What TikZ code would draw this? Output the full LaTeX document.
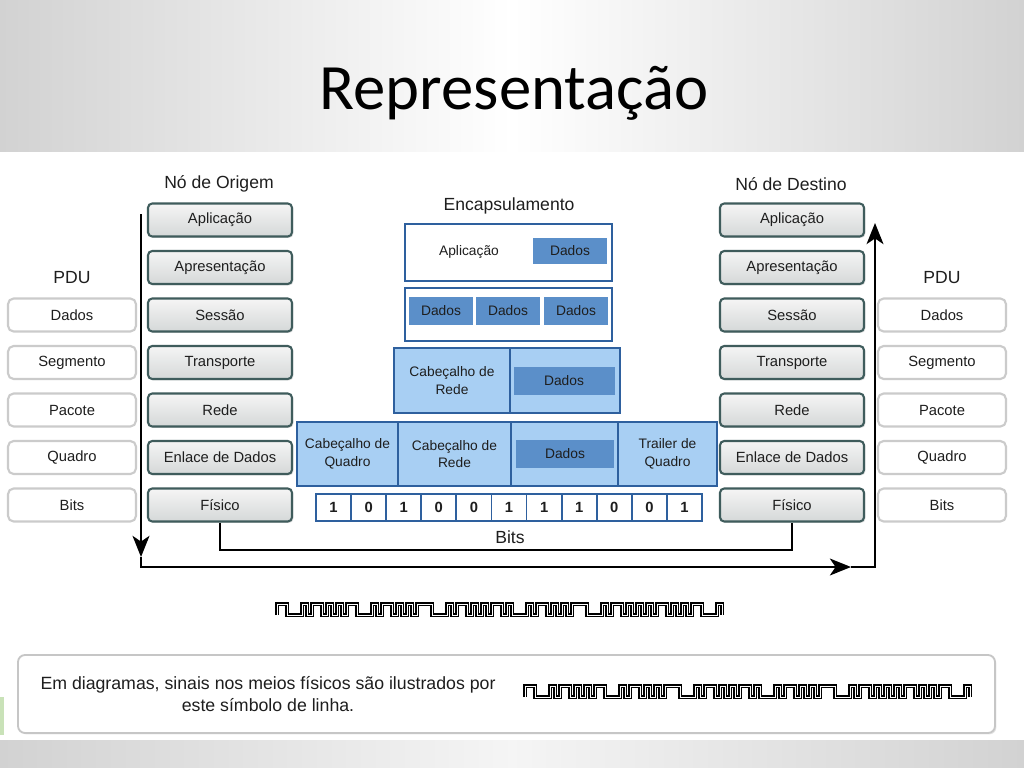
\documentclass[tikz,border=0pt]{standalone}
\usepackage{fontspec}
\setmainfont{Liberation Sans}
\newfontfamily\titlefont{Carlito}
\usepackage{tikz}
\usetikzlibrary{arrows.meta,shadows}
\definecolor{laybd}{HTML}{3F5C5C}
\definecolor{laytop}{HTML}{F5F5F5}
\definecolor{laybot}{HTML}{D5D8D8}
\definecolor{pdubd}{HTML}{CBCBCB}
\definecolor{encbd}{HTML}{2E609E}
\definecolor{enclt}{HTML}{A8CFF3}
\definecolor{encdk}{HTML}{5B8FC9}
\definecolor{ink}{HTML}{1E1E1E}
\definecolor{bandgr}{HTML}{D2D2D2}
\definecolor{leaf}{HTML}{C9E2B8}
\newcommand{\pxu}{0.025cm}
\newcommand{\boxfont}{\fontsize{10.5}{12}\selectfont}
\newcommand{\encfont}{\fontsize{9.8}{12.5}\selectfont}
\newcommand{\lblfont}{\fontsize{12.5}{14}\selectfont}
\newcommand{\notefont}{\fontsize{12.6}{15.6}\selectfont}
\newcommand{\bitpattern}{2/3,1/1,2/1,1/1,1/1,2/3,1/1,2/1,1/1,1/1,3/3,1/1,2/1,1/1,1/1,2/1,1/3,1/1,2/1,1/1,1/1,3/3,1/1,2/1,1/1,1/1,1/1,2/1,1/1,1/1,2/3,1/0}

\begin{document}
\begin{tikzpicture}[
  x=\pxu, y=-\pxu,
  layer/.style={draw=laybd,line width=1.5pt,top color=laytop,bottom color=laybot,rounded corners=3pt,inner sep=0pt,minimum width=144*\pxu,minimum height=33*\pxu,font=\boxfont,text=ink,drop shadow={opacity=0.25,shadow xshift=1pt,shadow yshift=-1pt}},
  pdu/.style={draw=pdubd,line width=1.5pt,fill=white,rounded corners=4pt,inner sep=0pt,minimum width=128*\pxu,minimum height=33*\pxu,font=\boxfont,text=ink},
  lbl/.style={font=\lblfont,text=ink,inner sep=0pt},
  enc/.style={draw=encbd,line width=1.3pt,inner sep=0pt,align=center,font=\encfont,text=ink},
  dados/.style={fill=encdk,inner sep=0pt,font=\encfont,text=ink},
  bitcell/.style={draw=encbd,line width=1.3pt,fill=white,inner sep=0pt,minimum width=35.1*\pxu,minimum height=27*\pxu,font=\boxfont\bfseries,text=ink},
  note/.style={draw=gray!45,line width=1.3pt,fill=white,rounded corners=5pt,minimum width=977*\pxu,minimum height=78*\pxu,drop shadow={opacity=0.2,shadow xshift=1pt,shadow yshift=-1pt}},
  fl/.style={-{Stealth[length=15pt,width=12pt,inset=4pt]},line width=1.5pt,draw=black},
  bus/.style={line width=1.5pt,draw=black},
  wave/.style={draw=black,line width=1.2pt,double=white,double distance=0.7pt},
]
\useasboundingbox (0,0) rectangle (1024,768);
% fundo do slide
\shade[left color=bandgr,right color=bandgr,middle color=white] (0,0) rectangle (1024,152);
\fill[white] (0,152) rectangle (1024,740);
\shade[left color=bandgr,right color=bandgr,middle color=gray!8] (0,740) rectangle (1024,768);
\fill[leaf] (0,697) rectangle (4,735);
\node[font=\titlefont\fontsize{46}{50}\selectfont,inner sep=0pt] (title) at (514,93) {Representação};

% colunas de camadas
\node[lbl] (orig) at (219,184) {Nó de Origem};
\node[lbl] (dest) at (791,184) {Nó de Destino};
\node[lbl] (pduL) at (72,278) {PDU};
\node[lbl] (pduR) at (942,278) {PDU};
\node[layer] (oapl) at (220,220) {Aplicação};
\node[layer] (oapr) at (220,267.5) {Apresentação};
\node[layer] (oses) at (220,315) {Sessão};
\node[layer] (otra) at (220,362.5) {Transporte};
\node[layer] (ored) at (220,410) {Rede};
\node[layer] (oenl) at (220,457.5) {Enlace de Dados};
\node[layer] (ofis) at (220,505) {Físico};
\node[layer] (dapl) at (792,220) {Aplicação};
\node[layer] (dapr) at (792,267.5) {Apresentação};
\node[layer] (dses) at (792,315) {Sessão};
\node[layer] (dtra) at (792,362.5) {Transporte};
\node[layer] (dred) at (792,410) {Rede};
\node[layer] (denl) at (792,457.5) {Enlace de Dados};
\node[layer] (dfis) at (792,505) {Físico};
\node[pdu] (lda) at (72,315) {Dados};
\node[pdu] (lseg) at (72,362.5) {Segmento};
\node[pdu] (lpac) at (72,410) {Pacote};
\node[pdu] (lqua) at (72,457.5) {Quadro};
\node[pdu] (lbit) at (72,505) {Bits};
\node[pdu] (rda) at (942,315) {Dados};
\node[pdu] (rseg) at (942,362.5) {Segmento};
\node[pdu] (rpac) at (942,410) {Pacote};
\node[pdu] (rqua) at (942,457.5) {Quadro};
\node[pdu] (rbit) at (942,505) {Bits};

% encapsulamento
\node[lbl] (encap) at (509,206) {Encapsulamento};
\node[enc,fill=white,minimum width=207*\pxu,minimum height=57*\pxu] (aplbox) at (508.5,252.5) {};
\node[font=\encfont,text=ink] (apltxt) at (469,252) {Aplicação};
\node[dados,minimum width=74*\pxu,minimum height=26*\pxu] (d1) at (570,251) {Dados};
\node[enc,fill=white,minimum width=207*\pxu,minimum height=53*\pxu] (segbox) at (508.5,314.5) {};
\node[dados,minimum width=64*\pxu,minimum height=28*\pxu] (d2a) at (441,311) {Dados};
\node[dados,minimum width=64*\pxu,minimum height=28*\pxu] (d2b) at (508,311) {Dados};
\node[dados,minimum width=64*\pxu,minimum height=28*\pxu] (d2c) at (576,311) {Dados};
\node[enc,fill=enclt,minimum width=116*\pxu,minimum height=65*\pxu] (pkth) at (452,380.5) {Cabeçalho de\\Rede};
\node[enc,fill=enclt,minimum width=110*\pxu,minimum height=65*\pxu] (pktd) at (565,380.5) {};
\node[dados,minimum width=101*\pxu,minimum height=28*\pxu] (d3) at (564,381) {Dados};
\node[enc,fill=enclt,minimum width=101*\pxu,minimum height=64*\pxu] (frh) at (347.5,454) {Cabeçalho de\\Quadro};
\node[enc,fill=enclt,minimum width=113*\pxu,minimum height=64*\pxu] (frn) at (454.5,454) {Cabeçalho de\\Rede};
\node[enc,fill=enclt,minimum width=107*\pxu,minimum height=64*\pxu] (frd) at (564.5,454) {};
\node[dados,minimum width=98*\pxu,minimum height=28*\pxu] (d4) at (565,454) {Dados};
\node[enc,fill=enclt,minimum width=99*\pxu,minimum height=64*\pxu] (frt) at (667.5,454) {Trailer de\\Quadro};
\node[bitcell] (b1) at (333.5,507.5) {1};
\node[bitcell] (b2) at (368.6,507.5) {0};
\node[bitcell] (b3) at (403.7,507.5) {1};
\node[bitcell] (b4) at (438.8,507.5) {0};
\node[bitcell] (b5) at (473.9,507.5) {0};
\node[bitcell] (b6) at (509,507.5) {1};
\node[bitcell] (b7) at (544.1,507.5) {1};
\node[bitcell] (b8) at (579.2,507.5) {1};
\node[bitcell] (b9) at (614.3,507.5) {0};
\node[bitcell] (b10) at (649.4,507.5) {0};
\node[bitcell] (b11) at (684.5,507.5) {1};
\node[lbl] (bits) at (510,537) {Bits};

% fluxo entre os nós
\coordinate (oT) at (141,214);
\coordinate (oA) at (141,557);
\coordinate (oB) at (141,567);
\coordinate (dA) at (851,567);
\coordinate (dB) at (875,567);
\coordinate (dT) at (875,223);
\coordinate (busmid) at (510,550);
\draw[fl] (oT) -- (oA);
\draw[fl] (oA) -- (oB) -- (dA);
\draw[fl] (dA) -- (dB) -- (dT);
\draw[bus] (ofis.south) |- (busmid) -| (dfis.south);

% sinal no meio físico
\coordinate (sigA) at (277,615);
\draw[wave] (sigA) \foreach \h/\l in \bitpattern { -- ++(0,-11) -- ++(5*\h,0) -- ++(0,11) -- ++(5*\l,0) };

% legenda
\node[note] (legend) at (506.5,694) {};
\node[font=\notefont,text=ink,align=center] (legtxt) at (268,694) {Em diagramas, sinais nos meios físicos são ilustrados por\\este símbolo de linha.};
\coordinate (sigB) at (525,697);
\draw[wave] (sigB) \foreach \h/\l in \bitpattern { -- ++(0,-11) -- ++(5*\h,0) -- ++(0,11) -- ++(5*\l,0) };
\end{tikzpicture}
\end{document}
